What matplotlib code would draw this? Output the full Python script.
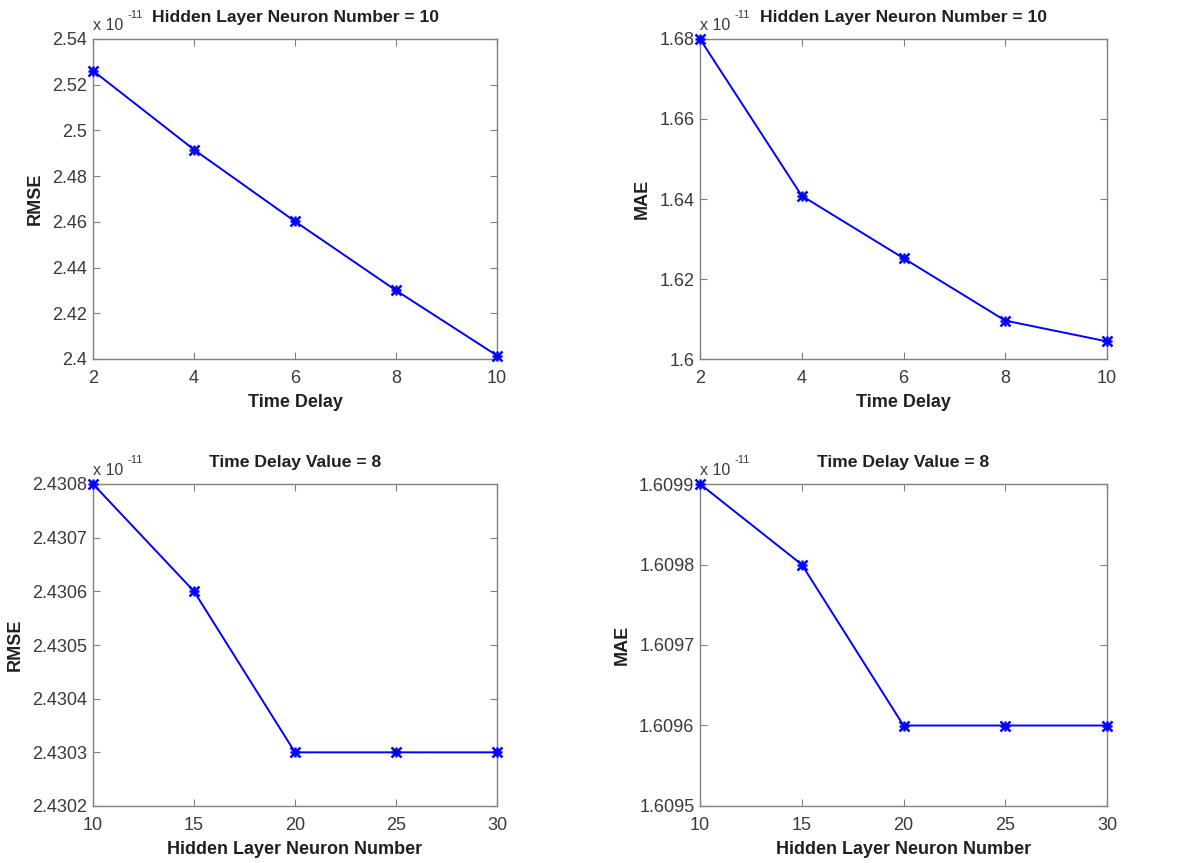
import matplotlib
matplotlib.use("Agg")
import matplotlib.pyplot as plt
from matplotlib.ticker import MultipleLocator, FormatStrFormatter, FuncFormatter

plt.rcParams['font.family'] = ['Liberation Sans', 'DejaVu Sans']

# values are in units of 1e-11
exponent = -11

time_delay = [2, 4, 6, 8, 10]
rmse_delay = [2.5261, 2.4916, 2.4602, 2.4300, 2.4015]
mae_delay = [1.6800, 1.6408, 1.6252, 1.6096, 1.6044]

neurons = [10, 15, 20, 25, 30]
rmse_neurons = [2.4308, 2.4306, 2.4303, 2.4303, 2.4303]
mae_neurons = [1.6099, 1.6098, 1.6096, 1.6096, 1.6096]

title_top = "Hidden Layer Neuron Number = 10"
title_bottom = "Time Delay Value = 8"

W, H = 1195, 863
fig = plt.figure(figsize=(W / 100, H / 100), dpi=100)


def px_axes(x0, y0, x1, y1):
    return fig.add_axes([x0 / W, 1 - y1 / H, (x1 - x0) / W, (y1 - y0) / H])


def short_fmt(v, pos):
    return ("%.2f" % v).rstrip("0").rstrip(".")


panels = [
    (px_axes(93, 39, 497, 359), time_delay, rmse_delay, "RMSE", "Time Delay",
     title_top, (2, 10), 2, (2.40, 2.54), 0.02, FuncFormatter(short_fmt)),
    (px_axes(700, 39, 1107, 359), time_delay, mae_delay, "MAE", "Time Delay",
     title_top, (2, 10), 2, (1.60, 1.68), 0.02, FuncFormatter(short_fmt)),
    (px_axes(93, 484, 497, 806), neurons, rmse_neurons, "RMSE",
     "Hidden Layer Neuron Number", title_bottom, (10, 30), 5,
     (2.4302, 2.4308), 0.0001, FormatStrFormatter("%.4f")),
    (px_axes(700, 484, 1107, 806), neurons, mae_neurons, "MAE",
     "Hidden Layer Neuron Number", title_bottom, (10, 30), 5,
     (1.6095, 1.6099), 0.0001, FormatStrFormatter("%.4f")),
]

tick_color = "#3a3a3a"
text_color = "#202020"
blue = "#0000ff"
for ax, x, y, ylab, xlab, title, xlim, xstep, ylim, ystep, fmt in panels:
    ax.plot(x, y, color=blue, linewidth=1.4, clip_on=False, zorder=3)
    # asterisk markers built from a plus and a cross
    for m in ("+", "x"):
        ax.plot(x, y, linestyle="none", marker=m, markersize=7,
                markeredgewidth=1.8, color=blue, clip_on=False, zorder=4)
    ax.set_xlim(*xlim)
    ax.set_ylim(*ylim)
    ax.xaxis.set_major_locator(MultipleLocator(xstep))
    ax.yaxis.set_major_locator(MultipleLocator(ystep))
    ax.yaxis.set_major_formatter(fmt)
    ax.tick_params(direction="in", top=True, right=True, length=5,
                   width=0.8, colors="#808080", labelcolor=tick_color,
                   labelsize=13)
    ax.tick_params(axis="x", pad=8)
    ax.tick_params(axis="y", pad=4)
    for s in ax.spines.values():
        s.set_color("#808080")
        s.set_linewidth(1.0)
    ax.set_xlabel(xlab, fontsize=13, fontweight="bold", color=text_color, labelpad=5)
    ax.set_ylabel(ylab, fontsize=13, fontweight="bold", color=text_color, labelpad=6)
    ax.set_title(title, fontsize=12.6, fontweight="bold", color=text_color, pad=12)
    ax.text(0.0, 1.02, "x 10", transform=ax.transAxes,
            fontsize=11.5, color=tick_color, ha="left", va="bottom")
    ax.annotate(str(exponent), xy=(0.0, 1.02), xycoords="axes fraction",
                xytext=(25, 9), textcoords="offset points",
                fontsize=8, color=tick_color, ha="left", va="bottom")

fig.savefig("out.png", dpi=100)
